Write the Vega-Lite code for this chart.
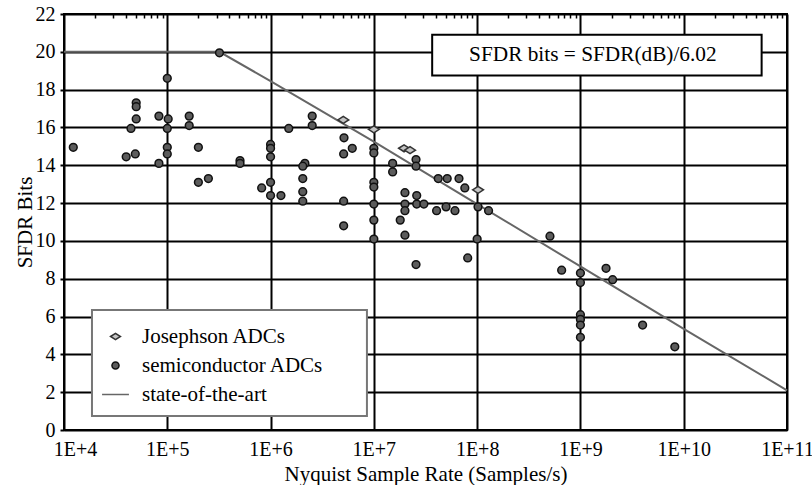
{
  "$schema": "https://vega.github.io/schema/vega-lite/v6.json",
  "width": 723,
  "height": 416,
  "autosize": "none",
  "padding": {"left": 64, "top": 14, "right": 25, "bottom": 55},
  "background": "white",
  "config": {
    "font": "Liberation Serif",
    "view": {"stroke": "black", "strokeWidth": 2},
    "axis": {"labelFont": "Liberation Serif", "titleFont": "Liberation Serif", "labelFontSize": 20, "titleFontSize": 21, "labelColor": "black", "titleColor": "black", "titleFontWeight": "normal", "labelFlush": false, "labelOverlap": false},
    "legend": {"orient": "none", "legendX": 21, "legendY": 312, "padding": 0, "labelFont": "Liberation Serif", "labelFontSize": 21, "labelColor": "black", "labelLimit": 400, "symbolSize": 50, "symbolStrokeWidth": 1.5, "rowPadding": 7, "labelOffset": 16, "symbolOffset": 20}
  },
  "layer": [
    {
      "data": {"values": [{}]},
      "mark": {"type": "rect", "fill": "white", "stroke": "#777777", "strokeWidth": 2},
      "encoding": {
        "x": {"datum": 18660, "type": "quantitative"},
        "x2": {"datum": 8570000},
        "y": {"datum": 6.35, "type": "quantitative"},
        "y2": {"datum": 0.74}
      }
    },
    {
      "data": {"values": [{}]},
      "mark": {"type": "rect", "fill": "white", "stroke": "black", "strokeWidth": 2},
      "encoding": {
        "x": {"datum": 36700000, "type": "quantitative"},
        "x2": {"datum": 56800000000},
        "y": {"datum": 20.9, "type": "quantitative"},
        "y2": {"datum": 18.75}
      }
    },
    {
      "data": {"values": [{}]},
      "mark": {"type": "text", "text": "SFDR bits = SFDR(dB)/6.02", "font": "Liberation Serif", "fontSize": 21.3, "color": "black", "align": "center", "baseline": "middle"},
      "encoding": {
        "x": {"datum": 1320000000, "type": "quantitative"},
        "y": {"datum": 19.83, "type": "quantitative"}
      }
    },
    {
      "data": {"values": [
        {"series": "state-of-the-art", "rate": 10000, "bits": 20},
        {"series": "state-of-the-art", "rate": 320000, "bits": 20},
        {"series": "state-of-the-art", "rate": 1000000, "bits": 18.45},
        {"series": "state-of-the-art", "rate": 10000000, "bits": 15.25},
        {"series": "state-of-the-art", "rate": 100000000, "bits": 11.95},
        {"series": "state-of-the-art", "rate": 1000000000, "bits": 8.65},
        {"series": "state-of-the-art", "rate": 10000000000, "bits": 5.35},
        {"series": "state-of-the-art", "rate": 100000000000, "bits": 2.1}
      ]},
      "mark": {"type": "line", "strokeWidth": 2},
      "encoding": {
        "x": {"field": "rate", "type": "quantitative"},
        "y": {"field": "bits", "type": "quantitative"},
        "stroke": {"field": "series", "type": "nominal", "scale": {"domain": ["Josephson ADCs", "semiconductor ADCs", "state-of-the-art"], "range": ["#333333", "#111111", "#666666"]}, "legend": {"title": null}}
      }
    },
    {
      "data": {"values": [
        {"series": "Josephson ADCs", "rate": 5060000, "bits": 16.4},
        {"series": "Josephson ADCs", "rate": 10000000, "bits": 15.9},
        {"series": "Josephson ADCs", "rate": 19600000, "bits": 14.9},
        {"series": "Josephson ADCs", "rate": 22400000, "bits": 14.8},
        {"series": "Josephson ADCs", "rate": 102000000, "bits": 12.7},
        {"series": "semiconductor ADCs", "rate": 320000, "bits": 19.95},
        {"series": "semiconductor ADCs", "rate": 100000, "bits": 18.6},
        {"series": "semiconductor ADCs", "rate": 50000, "bits": 17.3},
        {"series": "semiconductor ADCs", "rate": 50000, "bits": 17.1},
        {"series": "semiconductor ADCs", "rate": 50000, "bits": 16.45},
        {"series": "semiconductor ADCs", "rate": 44500, "bits": 15.95},
        {"series": "semiconductor ADCs", "rate": 83000, "bits": 16.6},
        {"series": "semiconductor ADCs", "rate": 102000, "bits": 16.45},
        {"series": "semiconductor ADCs", "rate": 100000, "bits": 15.95},
        {"series": "semiconductor ADCs", "rate": 163000, "bits": 16.6},
        {"series": "semiconductor ADCs", "rate": 163000, "bits": 16.1},
        {"series": "semiconductor ADCs", "rate": 1500000, "bits": 15.95},
        {"series": "semiconductor ADCs", "rate": 12300, "bits": 14.95},
        {"series": "semiconductor ADCs", "rate": 40000, "bits": 14.45},
        {"series": "semiconductor ADCs", "rate": 49000, "bits": 14.6},
        {"series": "semiconductor ADCs", "rate": 100000, "bits": 14.95},
        {"series": "semiconductor ADCs", "rate": 100000, "bits": 14.6},
        {"series": "semiconductor ADCs", "rate": 83000, "bits": 14.1},
        {"series": "semiconductor ADCs", "rate": 200000, "bits": 14.95},
        {"series": "semiconductor ADCs", "rate": 506000, "bits": 14.25},
        {"series": "semiconductor ADCs", "rate": 506000, "bits": 14.1},
        {"series": "semiconductor ADCs", "rate": 1000000, "bits": 15.1},
        {"series": "semiconductor ADCs", "rate": 1000000, "bits": 14.9},
        {"series": "semiconductor ADCs", "rate": 1000000, "bits": 14.45},
        {"series": "semiconductor ADCs", "rate": 200000, "bits": 13.1},
        {"series": "semiconductor ADCs", "rate": 250000, "bits": 13.3},
        {"series": "semiconductor ADCs", "rate": 820000, "bits": 12.8},
        {"series": "semiconductor ADCs", "rate": 1000000, "bits": 13.1},
        {"series": "semiconductor ADCs", "rate": 1000000, "bits": 12.4},
        {"series": "semiconductor ADCs", "rate": 1260000, "bits": 12.4},
        {"series": "semiconductor ADCs", "rate": 2150000, "bits": 14.1},
        {"series": "semiconductor ADCs", "rate": 2050000, "bits": 13.95},
        {"series": "semiconductor ADCs", "rate": 2050000, "bits": 13.3},
        {"series": "semiconductor ADCs", "rate": 2050000, "bits": 12.6},
        {"series": "semiconductor ADCs", "rate": 2050000, "bits": 12.1},
        {"series": "semiconductor ADCs", "rate": 2530000, "bits": 16.6},
        {"series": "semiconductor ADCs", "rate": 2530000, "bits": 16.1},
        {"series": "semiconductor ADCs", "rate": 5140000, "bits": 15.45},
        {"series": "semiconductor ADCs", "rate": 6180000, "bits": 14.9},
        {"series": "semiconductor ADCs", "rate": 5100000, "bits": 14.6},
        {"series": "semiconductor ADCs", "rate": 5100000, "bits": 12.1},
        {"series": "semiconductor ADCs", "rate": 5100000, "bits": 10.8},
        {"series": "semiconductor ADCs", "rate": 10000000, "bits": 14.9},
        {"series": "semiconductor ADCs", "rate": 10000000, "bits": 14.65},
        {"series": "semiconductor ADCs", "rate": 10000000, "bits": 13.1},
        {"series": "semiconductor ADCs", "rate": 10000000, "bits": 12.85},
        {"series": "semiconductor ADCs", "rate": 10000000, "bits": 11.95},
        {"series": "semiconductor ADCs", "rate": 10000000, "bits": 11.1},
        {"series": "semiconductor ADCs", "rate": 10000000, "bits": 10.1},
        {"series": "semiconductor ADCs", "rate": 15200000, "bits": 14.1},
        {"series": "semiconductor ADCs", "rate": 15200000, "bits": 13.65},
        {"series": "semiconductor ADCs", "rate": 25600000, "bits": 14.3},
        {"series": "semiconductor ADCs", "rate": 25600000, "bits": 13.95},
        {"series": "semiconductor ADCs", "rate": 20000000, "bits": 12.55},
        {"series": "semiconductor ADCs", "rate": 20000000, "bits": 11.95},
        {"series": "semiconductor ADCs", "rate": 20000000, "bits": 11.6},
        {"series": "semiconductor ADCs", "rate": 26000000, "bits": 12.4},
        {"series": "semiconductor ADCs", "rate": 26000000, "bits": 11.95},
        {"series": "semiconductor ADCs", "rate": 30500000, "bits": 11.95},
        {"series": "semiconductor ADCs", "rate": 18000000, "bits": 11.1},
        {"series": "semiconductor ADCs", "rate": 20000000, "bits": 10.3},
        {"series": "semiconductor ADCs", "rate": 25600000, "bits": 8.75},
        {"series": "semiconductor ADCs", "rate": 42000000, "bits": 13.3},
        {"series": "semiconductor ADCs", "rate": 51300000, "bits": 13.3},
        {"series": "semiconductor ADCs", "rate": 66700000, "bits": 13.3},
        {"series": "semiconductor ADCs", "rate": 76000000, "bits": 12.8},
        {"series": "semiconductor ADCs", "rate": 40500000, "bits": 11.6},
        {"series": "semiconductor ADCs", "rate": 50000000, "bits": 11.8},
        {"series": "semiconductor ADCs", "rate": 61000000, "bits": 11.6},
        {"series": "semiconductor ADCs", "rate": 102000000, "bits": 11.8},
        {"series": "semiconductor ADCs", "rate": 129000000, "bits": 11.6},
        {"series": "semiconductor ADCs", "rate": 100000000, "bits": 10.1},
        {"series": "semiconductor ADCs", "rate": 81000000, "bits": 9.1},
        {"series": "semiconductor ADCs", "rate": 507000000, "bits": 10.25},
        {"series": "semiconductor ADCs", "rate": 658000000, "bits": 8.45},
        {"series": "semiconductor ADCs", "rate": 1000000000, "bits": 8.3},
        {"series": "semiconductor ADCs", "rate": 1000000000, "bits": 7.8},
        {"series": "semiconductor ADCs", "rate": 1770000000, "bits": 8.55},
        {"series": "semiconductor ADCs", "rate": 2050000000, "bits": 7.95},
        {"series": "semiconductor ADCs", "rate": 1000000000, "bits": 6.1},
        {"series": "semiconductor ADCs", "rate": 1000000000, "bits": 5.85},
        {"series": "semiconductor ADCs", "rate": 1000000000, "bits": 5.55},
        {"series": "semiconductor ADCs", "rate": 1000000000, "bits": 4.9},
        {"series": "semiconductor ADCs", "rate": 4000000000, "bits": 5.55},
        {"series": "semiconductor ADCs", "rate": 8200000000, "bits": 4.4}
      ]},
      "mark": {"type": "point", "filled": true, "size": 60, "strokeWidth": 1.5, "opacity": 1},
      "encoding": {
        "x": {"field": "rate", "type": "quantitative", "scale": {"type": "log", "domain": [10000, 100000000000], "nice": false},
          "axis": {"orient": "bottom", "tickCount": 200, "values": [10000,20000,30000,40000,50000,60000,70000,80000,90000,100000,200000,300000,400000,500000,600000,700000,800000,900000,1000000,2000000,3000000,4000000,5000000,6000000,7000000,8000000,9000000,10000000,20000000,30000000,40000000,50000000,60000000,70000000,80000000,90000000,100000000,200000000,300000000,400000000,500000000,600000000,700000000,800000000,900000000,1000000000,2000000000,3000000000,4000000000,5000000000,6000000000,7000000000,8000000000,9000000000,10000000000,20000000000,30000000000,40000000000,50000000000,60000000000,70000000000,80000000000,90000000000,100000000000],
            "labelExpr": "abs(log(datum.value)/LN10 - round(log(datum.value)/LN10)) < 0.001 ? '1E+' + round(log(datum.value)/LN10) : ''",
            "title": "Nyquist Sample Rate (Samples/s)",
            "grid": true, "gridColor": "black", "gridOpacity": 1,
            "gridWidth": {"condition": {"test": "abs(log(datum.value)/LN10 - round(log(datum.value)/LN10)) < 0.001", "value": 2}, "value": 1.5},
            "gridDash": {"condition": {"test": "abs(log(datum.value)/LN10 - round(log(datum.value)/LN10)) < 0.001", "value": []}, "value": [4, 2000]},
            "labelOffset": {"condition": {"test": "datum.value == 10000", "value": 11}, "value": 0},
            "domain": false, "ticks": false,
            "labelPadding": 9, "titlePadding": 4}},
        "y": {"field": "bits", "type": "quantitative", "scale": {"domain": [0, 22], "nice": false},
          "axis": {"tickCount": 100, "format": "d", "values": [0,2,4,6,8,10,12,14,16,18,20,22], "title": "SFDR Bits", "grid": true, "gridColor": "black", "gridWidth": 2, "domain": false, "ticks": true, "tickSize": 4, "tickWidth": 2, "tickColor": "black", "labelPadding": 5, "titlePadding": 4, "titleBaseline": "alphabetic"}},
        "shape": {"field": "series", "type": "nominal", "scale": {"domain": ["Josephson ADCs", "semiconductor ADCs", "state-of-the-art"], "range": ["M-1.4,0L0,-0.9L1.4,0L0,0.9Z", "circle", "M-3.8,0H3.8"]}, "legend": {"title": null}},
        "fill": {"field": "series", "type": "nominal", "scale": {"domain": ["Josephson ADCs", "semiconductor ADCs", "state-of-the-art"], "range": ["#c4c4c4", "#5c5c5c", "transparent"]}, "legend": {"title": null}},
        "stroke": {"field": "series", "type": "nominal", "legend": {"title": null}}
      }
    }
  ]
}
